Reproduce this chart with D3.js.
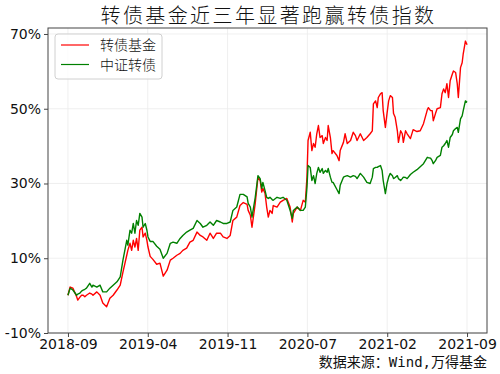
<!DOCTYPE html>
<html>
<head>
<meta charset="utf-8">
<script src="https://cdn.jsdelivr.net/npm/d3@7"></script>
<style>
  body { margin: 0; background: #fff; }
  svg text { fill: #111; }
</style>
</head>
<body>
<div id="chart"></div>
<script>

var svgWidth = 500;
var svgHeight = 374;

var margin = { top: 28, right: 13, bottom: 41, left: 48 };

var width = svgWidth - margin.left - margin.right;
var height = svgHeight - margin.top - margin.bottom;

// trading-day index of each sampled point
var dayIdx = [0,4,9,16,18,22,25,28,31,34,40,44,46,53,59,64,71,77,83,90,96,101,108,110,114,117,120,123,126,129,132,136,138,142,145,147,151,156,163,169,175,182,188,193,200,206,211,218,224,230,237,243,248,255,261,267,273,280,285,292,298,303,310,316,322,329,331,335,338,344,349,353,356,358,362,365,368,371,375,377,384,390,395,402,408,412,414,421,427,432,436,439,441,445,448,451,454,457,460,463,467,469,473,476,478,482,485,487,494,498,500,506,509,513,519,524,528,531,537,543,549,555,559,561,565,568,570,574,577,579,583,586,589,592,596,598,601,605,607,611,614,616,620,623,629,634,641,647,653,660,662,666,669,671,675,678,684,687,690,693,696,699,702,706,708,712,715,717,721,724,726,730,733];

// 转债基金 (%)
var fundValues = [0.1,2.3,2.0,-0.3,-1.2,-0.4,0.1,0.1,-0.3,0.1,0.7,0.4,0.1,1.0,0.1,-2.0,-3.0,-0.7,0.1,1.5,2.8,6.3,10.8,12.1,14.0,12.1,14.8,13.0,15.3,12.1,17.5,18.3,15.7,16.7,14.8,13.0,10.5,9.7,8.4,8.7,5.2,6.8,9.5,10.0,10.8,11.3,12.1,12.7,14.3,14.8,17.0,16.1,15.7,14.8,16.7,15.3,16.7,16.7,15.7,15.3,16.1,20.1,21.0,24.1,24.9,24.4,22.8,21.5,18.3,24.7,31.7,30.8,27.7,28.7,27.3,23.7,21.0,22.8,22.0,24.1,23.7,25.0,25.5,26.0,23.7,19.7,22.0,23.7,22.8,25.5,25.0,31.7,41.5,43.7,38.8,40.7,39.7,43.3,45.5,42.3,42.8,40.7,42.3,41.5,45.5,42.3,38.0,38.8,37.5,36.1,38.8,41.0,43.3,40.7,41.5,43.7,42.8,41.5,43.3,41.5,42.3,43.3,44.1,51.3,52.1,50.3,53.0,54.0,54.3,49.5,45.0,48.7,52.1,53.5,53.0,48.7,47.7,44.1,41.0,44.1,43.3,41.0,44.1,43.3,42.0,44.4,43.9,44.1,46.0,49.7,50.3,49.5,49.5,46.8,48.7,50.0,50.3,54.0,55.3,54.3,56.7,53.0,57.5,59.3,60.1,59.7,56.7,53.0,61.0,62.3,64.7,68.1,67.1];

// 中证转债 (%)
var indexValues = [0.1,2.0,1.5,0.1,0.4,0.7,1.2,1.5,1.7,2.0,3.3,2.3,2.8,2.3,2.8,1.0,1.0,2.0,2.8,3.7,5.0,9.5,14.8,13.5,17.5,16.7,19.3,16.7,20.1,18.8,22.0,21.0,18.3,19.3,17.5,15.7,14.5,14.5,13.2,12.4,10.0,11.3,14.0,14.3,14.0,15.3,16.1,17.0,17.5,18.0,20.1,19.3,18.3,18.8,19.7,18.8,20.1,19.7,19.3,19.3,19.7,22.8,23.7,27.1,27.1,26.4,24.7,23.7,21.0,26.3,32.1,31.3,28.7,30.3,28.1,26.3,26.0,26.3,25.7,25.5,26.3,26.0,26.3,25.5,22.8,20.7,22.8,23.7,22.8,22.8,23.7,29.0,34.8,34.3,30.8,32.1,30.0,32.7,34.3,33.0,34.0,32.7,33.5,33.0,34.0,31.7,30.3,30.3,28.4,27.3,29.5,31.7,31.9,32.1,31.7,32.1,31.9,31.3,32.7,31.7,30.3,30.0,31.7,34.0,34.3,34.3,34.5,34.8,33.5,30.8,27.3,30.0,31.7,32.7,32.1,31.3,31.6,32.1,31.3,30.8,31.3,31.7,31.6,31.3,32.4,33.0,33.7,34.5,35.3,37.0,36.9,36.8,36.1,35.3,36.1,37.0,37.5,39.7,40.1,40.7,41.5,39.7,42.3,43.1,44.1,44.7,45.0,43.7,47.3,48.1,49.5,52.1,51.7];

var xTickLabels = ["2018-09", "2019-04", "2019-11", "2020-07", "2021-02", "2021-09"];
var yTickValues = [-10, 10, 30, 50, 70];

var seriesNames = ["转债基金", "中证转债"];
var seriesColors = ["#ff0000", "#008000"];

var svg = d3.select("#chart")
  .append("svg")
  .attr("width", svgWidth)
  .attr("height", svgHeight);

var chartGroup = svg.append("g")
  .attr("transform", `translate(${margin.left}, ${margin.top})`);

// x is trading-day index, padded 5% on each side like the original
var lastDay = d3.max(dayIdx);
var pad = lastDay * 0.05;
var xScale = d3.scaleLinear()
  .domain([-pad, lastDay + pad])
  .range([0, width]);

var yScale = d3.scaleLinear()
  .domain([-10, 71.6])
  .range([height, 0]);

var xTickPos = xTickLabels.map((d, i) => lastDay * i / (xTickLabels.length - 1));

// grid
chartGroup.append("g")
  .selectAll("line.gx")
  .data(xTickPos)
  .enter()
  .append("line")
  .attr("x1", d => xScale(d)).attr("x2", d => xScale(d))
  .attr("y1", 0).attr("y2", height)
  .attr("stroke", "#ebebeb").attr("stroke-width", 0.8);

chartGroup.append("g")
  .selectAll("line.gy")
  .data(yTickValues)
  .enter()
  .append("line")
  .attr("x1", 0).attr("x2", width)
  .attr("y1", d => yScale(d)).attr("y2", d => yScale(d))
  .attr("stroke", "#ebebeb").attr("stroke-width", 0.8);

// lines
var line = d3.line()
  .x((d, i) => xScale(dayIdx[i]))
  .y(d => yScale(d));

[fundValues, indexValues].forEach(function(vals, k) {
  chartGroup.append("path")
    .datum(vals)
    .attr("fill", "none")
    .attr("stroke", seriesColors[k])
    .attr("stroke-width", 1.4)
    .attr("stroke-linejoin", "round")
    .attr("d", line);
});

// axes
var bottomAxis = d3.axisBottom(xScale)
  .tickValues(xTickPos)
  .tickFormat((d, i) => xTickLabels[i])
  .tickSize(4)
  .tickPadding(2);

var leftAxis = d3.axisLeft(yScale)
  .tickValues(yTickValues)
  .tickFormat(d => d + "%")
  .tickSize(4)
  .tickPadding(3);

var xAxis = chartGroup.append("g")
  .attr("transform", `translate(0, ${height})`)
  .call(bottomAxis);

var yAxis = chartGroup.append("g")
  .call(leftAxis);

[xAxis, yAxis].forEach(function(ax) {
  ax.select(".domain").remove();
  ax.selectAll("line").attr("stroke", "#444");
  ax.selectAll("text")
    .attr("fill", "#111")
    .style("font-family", "DejaVu Sans")
    .style("font-size", "14px");
});

// frame
chartGroup.append("rect")
  .attr("x", 0).attr("y", 0)
  .attr("width", width).attr("height", height)
  .attr("fill", "none")
  .attr("stroke", "#444")
  .attr("stroke-width", 1);

// legend
var legend = chartGroup.append("g")
  .attr("transform", "translate(7, 6)");

legend.append("rect")
  .attr("width", 107).attr("height", 45)
  .attr("rx", 3)
  .attr("fill", "#fff").attr("fill-opacity", 0.8)
  .attr("stroke", "#d0d0d0");

seriesNames.forEach(function(name, i) {
  var yy = 11 + i * 19.5;
  legend.append("line")
    .attr("x1", 6).attr("x2", 34)
    .attr("y1", yy).attr("y2", yy)
    .attr("stroke", seriesColors[i])
    .attr("stroke-width", 1.2);
  legend.append("text")
    .attr("x", 45).attr("y", yy + 5)
    .style("font-family", "Noto Sans CJK SC")
    .style("font-weight", 300)
    .style("font-size", "14px")
    .text(name);
});

// title
svg.append("text")
  .attr("x", margin.left + width / 2 + 1)
  .attr("y", 23)
  .attr("text-anchor", "middle")
  .style("font-family", "Noto Sans CJK SC")
  .style("font-weight", 300)
  .style("font-size", "20px")
  .style("letter-spacing", "2.4px")
  .text("转债基金近三年显著跑赢转债指数");

// source note
svg.append("text")
  .attr("x", margin.left + width)
  .attr("y", 367)
  .attr("text-anchor", "end")
  .style("font-family", "DejaVu Sans Mono, Noto Sans CJK SC")
  .style("font-size", "14px")
  .text("数据来源：Wind,万得基金");

</script>
</body>
</html>
